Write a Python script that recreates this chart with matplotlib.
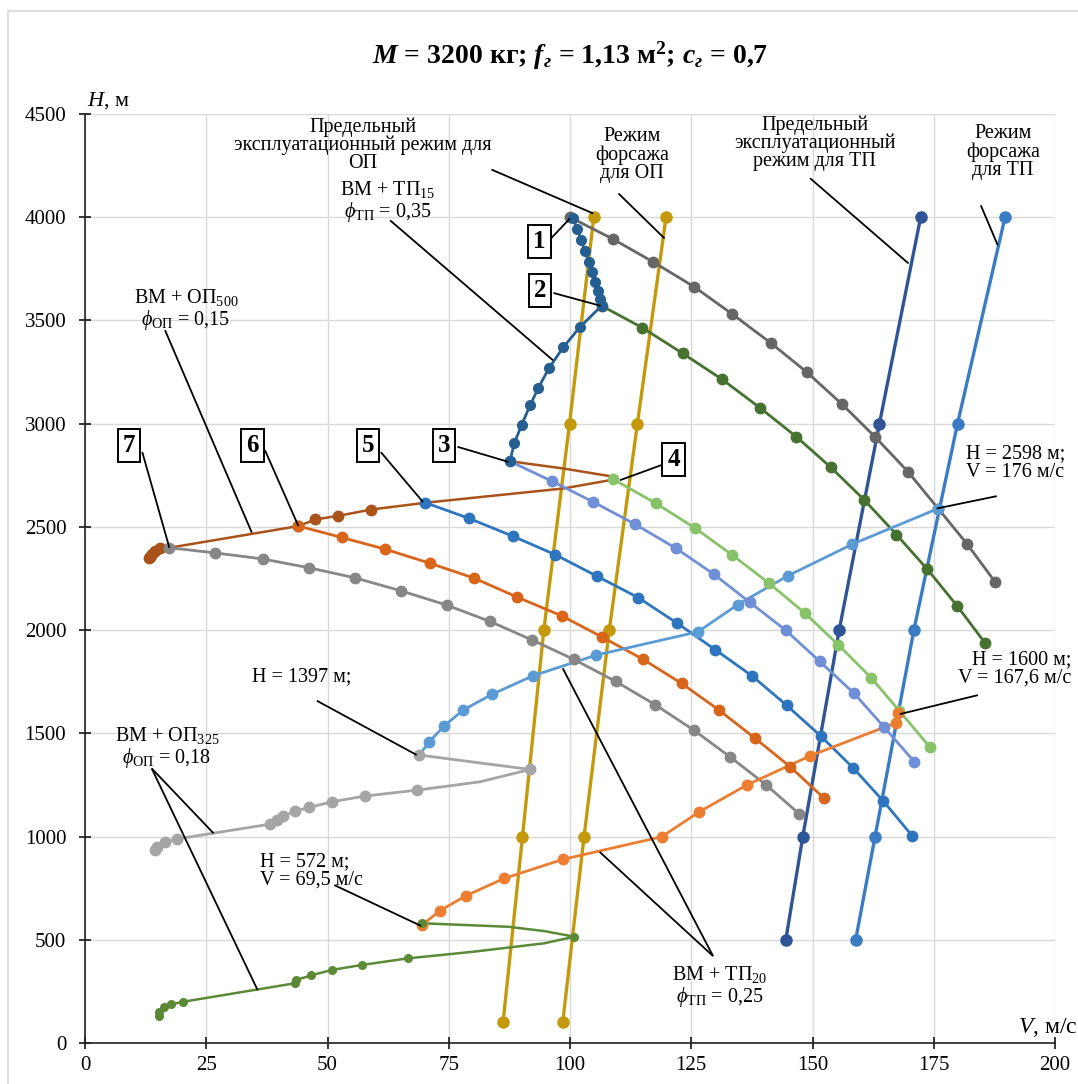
import matplotlib
matplotlib.use("Agg")
import matplotlib.pyplot as plt
from matplotlib.patches import Rectangle

plt.rcParams['font.family'] = ['Liberation Serif', 'DejaVu Serif']
plt.rcParams['mathtext.fontset'] = 'custom'
plt.rcParams['mathtext.rm'] = 'Liberation Serif'
plt.rcParams['mathtext.it'] = 'Liberation Serif:italic'
plt.rcParams['mathtext.bf'] = 'Liberation Serif:bold'
plt.rcParams['mathtext.bfit'] = 'Liberation Serif:italic:bold'

# ============================================================
# Data (V, м/с ; H, м)
# ============================================================
# 1 - upper gray
v1 = [100, 108.8, 117.1, 125.6, 133.5, 141.4, 148.9, 156.1, 162.9, 169.7, 175.9, 181.9, 187.7]
h1 = [4000, 3895, 3784, 3663, 3530, 3391, 3248, 3094, 2936, 2767, 2589, 2416, 2232]

# 2 - dark green
v2 = [106.5, 114.9, 123.2, 131.4, 139.1, 146.7, 153.8, 160.7, 167.3, 173.7, 179.8, 185.6]
h2 = [3571, 3465, 3341, 3214, 3078, 2936, 2788, 2630, 2463, 2294, 2118, 1937]

# ВМ + ТП15
v_tp15 = [100.6, 101.5, 102.3, 103.1, 103.9, 104.6, 105.2, 105.7, 106.2, 106.5,
          102.1, 98.6, 95.7, 93.5, 91.8, 90.0, 88.5, 87.6]
h_tp15 = [3995, 3942, 3889, 3835, 3782, 3734, 3685, 3642, 3603, 3571,
          3469, 3370, 3270, 3175, 3090, 2993, 2904, 2818]

# ВМ + ОП500
v_op500 = [87.6, 98.6, 108.2, 108.5, 108.2, 98.6, 70.2, 59.0, 52.1, 47.5, 44.0,
           17.4, 15.5, 14.5, 13.8, 13.3, 13.1]
h_op500 = [2818, 2783, 2746, 2736, 2726, 2686, 2617, 2584, 2553, 2536, 2504,
           2399, 2397, 2385, 2370, 2355, 2347]

# 3 - lavender
v3 = [87.6, 96.2, 104.8, 113.4, 121.8, 129.7, 137.1, 144.5, 151.5, 158.6, 164.7, 171.0]
h3 = [2818, 2722, 2621, 2513, 2397, 2270, 2134, 1999, 1848, 1693, 1532, 1362]

# 4 - light green
v4 = [108.9, 117.7, 125.8, 133.5, 141.1, 148.5, 155.3, 162.1, 167.9, 174.2]
h4 = [2731, 2614, 2494, 2363, 2226, 2081, 1929, 1769, 1609, 1433]

# 5 - medium blue
v5 = [70.2, 79.2, 88.2, 97.0, 105.5, 114.1, 122.0, 129.9, 137.6, 144.7, 151.7, 158.4, 164.6, 170.6]
h5 = [2617, 2541, 2455, 2365, 2262, 2157, 2035, 1906, 1777, 1635, 1487, 1332, 1172, 1002]

# 6 - orange
v6 = [44.0, 52.9, 61.9, 71.1, 80.2, 89.1, 98.3, 106.5, 115.1, 123.0, 130.7, 138.1, 145.4, 152.4]
h6 = [2504, 2449, 2392, 2324, 2252, 2160, 2069, 1968, 1858, 1742, 1613, 1477, 1338, 1185]

# 7 - gray
v7 = [17.4, 26.8, 36.6, 46.2, 55.7, 65.2, 74.6, 83.5, 92.2, 100.8, 109.4, 117.6, 125.5, 133.0, 140.4, 147.3]
h7 = [2399, 2374, 2345, 2302, 2253, 2190, 2121, 2042, 1952, 1858, 1752, 1638, 1516, 1386, 1251, 1109]

# ВМ + ТП20 (upper branch)
v_tp20 = [68.9, 71.0, 74.0, 78.0, 84.0, 92.4, 105.4, 126.4, 134.6, 144.9, 158.2, 175.9]
h_tp20 = [1395, 1459, 1535, 1613, 1690, 1779, 1879, 1992, 2124, 2263, 2416, 2589]

# ВМ + ОП325 (upper branch)
v_op325 = [68.9, 91.8, 81.4, 68.5, 57.7, 51.0, 46.2, 43.3, 40.9, 39.5, 38.1, 18.9, 16.5, 14.8, 14.4]
h_op325 = [1395, 1325, 1265, 1225, 1196, 1169, 1141, 1123, 1099, 1080, 1060, 988, 972, 951, 935]

# ВМ + ТП20 (lower branch)
v_tp20b = [69.5, 73.2, 78.5, 86.4, 98.6, 118.9, 126.6, 136.4, 149.5, 167.2, 167.6]
h_tp20b = [572, 641, 713, 797, 890, 999, 1119, 1249, 1391, 1551, 1600]

# ВМ + ОП325 (lower branch)
v_op325b = [69.5, 87.3, 94.7, 100.9, 94.7, 80.0, 66.6, 57.1, 50.9, 46.7, 43.5, 43.2,
            20.3, 17.7, 16.3, 15.3, 15.2]
h_op325b = [580, 563, 542, 515, 483, 442, 410, 378, 354, 328, 305, 289,
            200, 187, 173, 152, 132]

# engine mode lines
h_op_lines = [100, 1000, 2000, 3000, 4000]
v_op_lim = [86.2, 90.2, 94.6, 99.9, 104.9]
v_op_fors = [98.5, 102.9, 108.1, 113.9, 119.8]
h_tp_lines = [500, 1000, 2000, 3000, 4000]
v_tp_lim = [144.5, 148.0, 155.5, 163.8, 172.3]
v_tp_fors = [158.9, 162.9, 170.9, 179.9, 189.7]

# ============================================================
# Figure
# ============================================================
fig = plt.figure(figsize=(10.78, 10.84), dpi=100)
fig.patches.append(Rectangle((0.0075, -0.05), 1.1, 1.04, transform=fig.transFigure,
                             fill=False, edgecolor='#d9d9d9', lw=1.2))
ax = fig.add_axes([85 / 1078, 1 - 1043 / 1084, 970 / 1078, 929 / 1084])

ax.set_xlim(0, 200)
ax.set_ylim(0, 4500)
ax.set_xticks(range(0, 201, 25))
ax.set_yticks(range(0, 4501, 500))
ax.grid(True, color='#d9d9d9', lw=1)
ax.set_axisbelow(True)
for s in ['top', 'right']:
    ax.spines[s].set_visible(False)
for s in ['left', 'bottom']:
    ax.spines[s].set_color('#222222')
    ax.spines[s].set_linewidth(1.2)
ax.tick_params(direction='inout', length=9, width=1.1, labelsize=15)
ax.tick_params(axis='y', pad=9)
ax.tick_params(axis='x', pad=5)


def curve(v, h, color, marks=None, ms=7.5, lw=2.0, z=3):
    ax.plot(v, h, color=color, lw=lw, zorder=z)
    if marks is None:
        marks = range(len(v))
    ax.plot([v[i] for i in marks], [h[i] for i in marks], 'o', color=color,
            ms=ms, zorder=z + 0.5)


curve(v_op_lim, h_op_lines, '#c49a0c', ms=8, lw=2.4, z=2)
curve(v_op_fors, h_op_lines, '#c49a0c', ms=8, lw=2.4, z=2)
curve(v_tp_lim, h_tp_lines, '#2f5597', ms=8, lw=2.4, z=2)
curve(v_tp_fors, h_tp_lines, '#3a7cc4', ms=8, lw=2.4, z=2)

curve(v1, h1, '#666666')
curve(v2, h2, '#467230')
curve(v_op500, h_op500, '#a9521a', marks=[7, 8, 9, 10, 12, 13, 14, 15, 16], lw=1.8)
curve(v3, h3, '#6f8fd6')
curve(v4, h4, '#88c36a')
curve(v5, h5, '#2e75c0')
curve(v6, h6, '#d9651b')
curve(v7, h7, '#878787')
curve(v_tp15, h_tp15, '#255e91', ms=7)
curve(v_tp20, h_tp20, '#5b9bd5', marks=range(1, len(v_tp20)))
curve(v_op325, h_op325, '#a5a5a5', marks=[i for i in range(len(v_op325)) if i != 2])
curve(v_tp20b, h_tp20b, '#ed7d31')
curve(v_op325b, h_op325b, '#5a8a35', marks=[0, 3] + list(range(6, len(v_op325b))),
      ms=5.5, lw=1.8)

# ============================================================
# Text, labels and leaders
# ============================================================
fig.text(0.529, 0.949,
         r"$\mathbfit{M}$ = 3200 кг; $\mathbfit{f}_{\mathbfit{г}}$ = 1,13 м$^{\mathbf{2}}$; "
         r"$\mathbfit{c}_{\mathbfit{г}}$ = 0,7",
         ha='center', va='center', fontsize=20, fontweight='bold')
ax.text(0.5, 4567, r"$\mathit{H}$, м", fontsize=16, ha='left', va='center', clip_on=False)
ax.text(192.4, 73, r"$\mathit{V}$, м/с", fontsize=17, ha='left', va='center', clip_on=False)


def leader(p0, p1):
    ax.plot([p0[0], p1[0]], [p0[1], p1[1]], color='black', lw=1.3, zorder=6,
            solid_capstyle='butt', clip_on=False)


fs = 14.5
ax.text(57.3, 4349, "Предельный\nэксплуатационный режим для\nОП", fontsize=fs,
        ha='center', va='center', linespacing=0.92)
leader((83.8, 4231), (104.8, 4018))
ax.text(112.8, 4300, "Режим\nфорсажа\nдля ОП", fontsize=fs, ha='center', va='center',
        linespacing=0.95)
leader((110.0, 4115), (119.5, 3897))
ax.text(150.5, 4358, "Предельный\nэксплуатационный\nрежим для ТП", fontsize=fs,
        ha='center', va='center', linespacing=0.92)
leader((149.5, 4189), (169.8, 3776))
ax.text(189.3, 4315, "Режим\nфорсажа\nдля ТП", fontsize=fs, ha='center', va='center',
        linespacing=0.95)
leader((184.7, 4058), (188.2, 3864))

ax.text(62.5, 4077, "ВМ + ТП$_{15}$\n$\\phi_{\\mathrm{ТП}}$ = 0,35", fontsize=fs,
        ha='center', va='center', linespacing=1.0)
leader((62.9, 3985), (96.5, 3307))
ax.text(20.8, 3554, "ВМ + ОП$_{500}$\n$\\phi_{\\mathrm{ОП}}$ = 0,15", fontsize=fs,
        ha='center', va='center', linespacing=1.0)
leader((16.5, 3453), (34.4, 2472))
ax.text(181.6, 2809, "H = 2598 м;\nV = 176 м/с", fontsize=fs, ha='left', va='center',
        linespacing=0.95, clip_on=False)
leader((188.0, 2649), (175.6, 2589))
ax.text(203.4, 1811, "H = 1600 м;\nV = 167,6 м/с", fontsize=fs, ha='right', va='center',
        linespacing=0.95, multialignment='right', clip_on=False)
leader((184.1, 1685), (168.0, 1593))
ax.text(34.4, 1772, "H = 1397 м;", fontsize=fs, ha='left', va='center')
leader((47.8, 1658), (68.4, 1395))
ax.text(16.9, 1429, "ВМ + ОП$_{325}$\n$\\phi_{\\mathrm{ОП}}$ = 0,18", fontsize=fs,
        ha='center', va='center', linespacing=1.0)
leader((13.75, 1330), (26.5, 1016))
leader((13.75, 1330), (35.6, 256))
ax.text(36.1, 833, "H = 572 м;\nV = 69,5 м/с", fontsize=fs, ha='left', va='center',
        linespacing=0.95)
leader((51.4, 765), (69.3, 567))
ax.text(130.9, 276, "ВМ + ТП$_{20}$\n$\\phi_{\\mathrm{ТП}}$ = 0,25", fontsize=fs,
        ha='center', va='center', linespacing=1.0)
leader((129.5, 421), (98.5, 1815))
leader((129.5, 421), (106.1, 926))

# numbered boxes
boxes = [("1", 93.7, 3880, (96.1, 3898), (100.0, 3994)),
         ("2", 93.8, 3646, (96.6, 3633), (106.3, 3571)),
         ("3", 74.0, 2896, (76.8, 2888), (87.3, 2815)),
         ("4", 121.4, 2827, (118.8, 2799), (110.3, 2726)),
         ("5", 58.4, 2896, (61.0, 2862), (69.7, 2620)),
         ("6", 34.5, 2896, (37.1, 2872), (44.0, 2504)),
         ("7", 9.1, 2896, (11.8, 2863), (17.4, 2399))]
for lab, bx, by, p0, p1 in boxes:
    leader(p0, p1)
    ax.text(bx, by, lab, fontsize=18, fontweight='bold', ha='center', va='center',
            zorder=8, bbox=dict(boxstyle='square,pad=0.2', fc='white', ec='black', lw=1.4))

fig.savefig("out.png", dpi=100)
